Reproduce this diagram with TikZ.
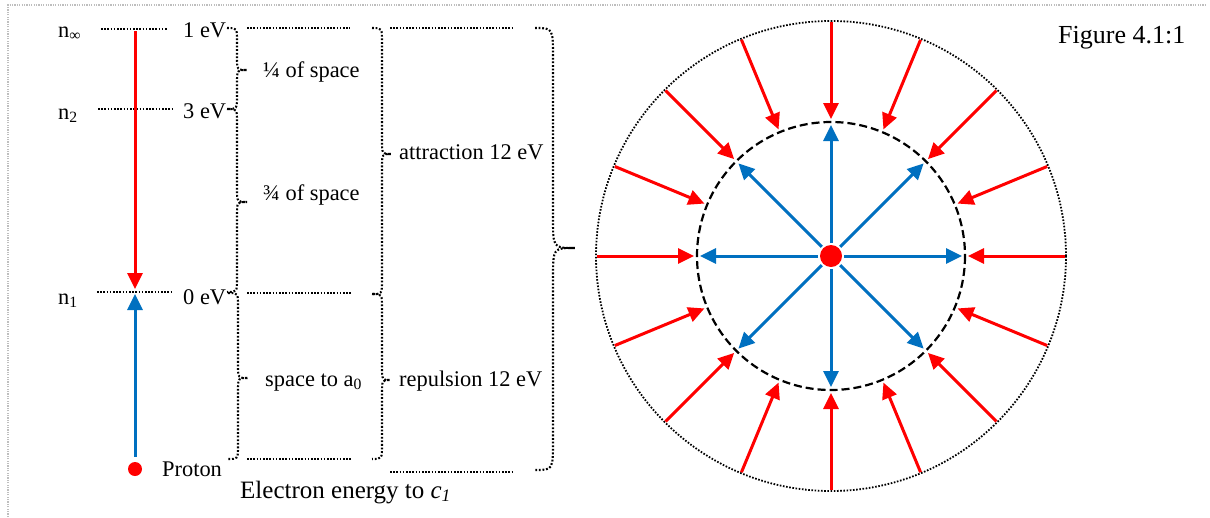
\documentclass[tikz,border=0pt]{standalone}
\usepackage{fontspec}
\setmainfont{Liberation Serif}
\usetikzlibrary{arrows.meta}
\definecolor{ared}{RGB}{255,0,0}
\definecolor{ablue}{RGB}{0,112,192}
\definecolor{framegray}{RGB}{190,190,190}
% x0, x1 (spine), x2 (tip), ytop, ymid, ybot, r
\newcommand\wordbrace[7]{%
  \draw[brl] (#1,#4) .. controls (#2,#4) .. (#2,{#4+#7}) -- (#2,{#5-#7})
    .. controls (#2,#5) .. (#3,#5) .. controls (#2,#5) .. (#2,{#5+#7})
    -- (#2,{#6-#7}) .. controls (#2,#6) .. (#1,#6);}
\begin{document}
\begin{tikzpicture}[x=1pt,y=-1pt,
  lbl/.style={font=\fontsize{22.4}{26}\selectfont, inner sep=0pt, anchor=base west},
  lvl/.style={line width=1.8pt, dash pattern=on 1.6pt off 1.6pt},
  brl/.style={line width=2.1pt, dash pattern=on 1.8pt off 1.8pt},
  redarr/.style={draw=ared, line width=3pt, -{Triangle[length=16pt,width=15pt]}},
  bluearr/.style={draw=ablue, line width=3pt, -{Triangle[length=16pt,width=15pt]}}]
\useasboundingbox (0,0) rectangle (1210,517);
% frame
\draw[framegray, line width=1.2pt, dash pattern=on 1.2pt off 1.2pt] (8,517) -- (8,5) -- (1205,5);

% ---- left energy diagram ----
\node[lbl] (ninf) at (58,37) {n\textsubscript{∞}};
\node[lbl] (ntwo) at (58,119) {n\textsubscript{2}};
\node[lbl] (none) at (58,304) {n\textsubscript{1}};
\draw[lvl] (101,29) -- (168,29);
\draw[lvl] (98,109) -- (172,109);
\draw[lvl] (97,292) -- (173,292);
\node[lbl] (e1) at (183,37) {1 eV};
\node[lbl] (e3) at (183,118) {3 eV};
\node[lbl] (e0) at (183,304) {0 eV};
\coordinate (rtop) at (135,31);
\coordinate (rtip) at (135,289);
\coordinate (btip) at (135,294);
\node[circle, fill=ared, minimum size=14pt, inner sep=0pt] (proton) at (135,469) {};
\node[lbl] (ptext) at (162,476) {Proton};
\draw[redarr] (rtop) -- (rtip);
\draw[bluearr] ([yshift=5pt]proton.north) -- (btip);

% first column of braces
\wordbrace{227}{237}{247}{28}{70}{109}{13}
\wordbrace{227}{237}{247}{109}{202}{292}{13}
\wordbrace{228}{238}{248}{293}{378}{459}{13}
\node[lbl] (q1) at (263,77) {¼ of space};
\node[lbl] (q3) at (263,200) {¾ of space};
\node[lbl] (sa) at (265,386) {space to a\textsubscript{0}};
\draw[lvl] (247,28) -- (350,28);
\draw[lvl] (247,293) -- (352,293);
\draw[lvl] (247,459) -- (352,459);

% second column
\wordbrace{372}{382}{391}{28}{154}{294}{14}
\wordbrace{372}{382}{390}{294}{380}{459}{14}
\node[lbl] (att) at (399,159) {attraction 12 eV};
\node[lbl] (rep) at (399,386) {repulsion 12 eV};
\draw[lvl] (390,28) -- (512,28);
\draw[lvl] (390,472) -- (512,472);

% big brace
\wordbrace{535}{553}{575}{28}{248}{470}{30}

\node[lbl, font=\fontsize{25}{29}\selectfont] (elec) at (240,498) {Electron energy to \textit{c}\textsubscript{\textit{1}}};

% ---- circle ----
\coordinate (c) at (831,256);
\draw[line width=1.8pt, dash pattern=on 1.6pt off 1.6pt] (c) circle[radius=235];
\draw[line width=2.2pt, dash pattern=on 8pt off 4pt] (c) circle[radius=134];
\foreach \a in {0,22.5,...,337.5}
  \draw[redarr] ([shift={(\a:234)}]c) -- ([shift={(\a:137)}]c);
\foreach \a in {0,45,...,315}
  \draw[bluearr] ([shift={(\a:13)}]c) -- ([shift={(\a:131)}]c);
\node[circle, fill=ared, minimum size=22pt, inner sep=0pt] (core) at (c) {};

\node[lbl, font=\fontsize{26}{30}\selectfont] (fig) at (1058,43) {Figure 4.1:1};
\end{tikzpicture}
\end{document}
